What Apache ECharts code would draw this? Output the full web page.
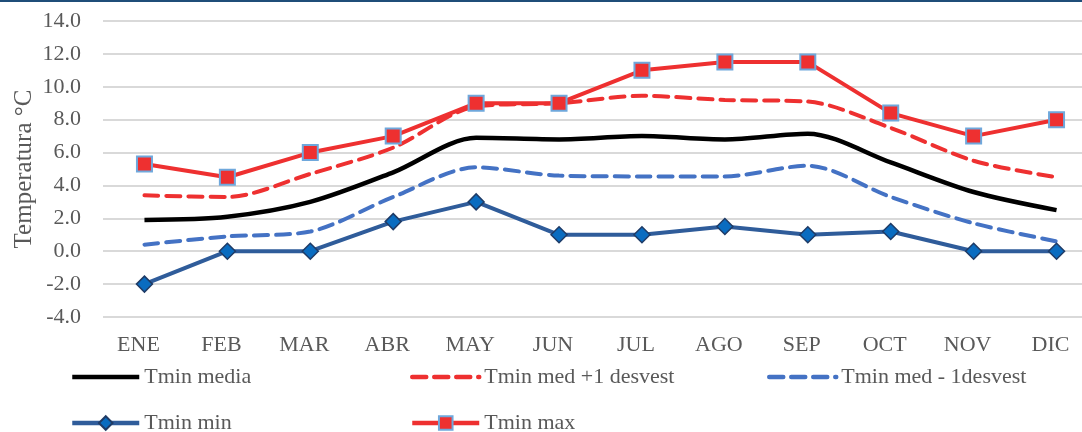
<!DOCTYPE html>
<html>
<head>
<meta charset="utf-8">
<script src="https://cdn.jsdelivr.net/npm/echarts@6/dist/echarts.min.js"></script>
<style>
  html, body { margin: 0; padding: 0; background: #fff; }
  #chart { width: 1082px; height: 432px; }
</style>
</head>
<body>
<div id="chart"></div>
<script>
// months
const months = ['ENE', 'FEB', 'MAR', 'ABR', 'MAY', 'JUN', 'JUL', 'AGO', 'SEP', 'OCT', 'NOV', 'DIC']
// series values (°C)
const tminMedia = [1.9, 2.1, 3.0, 4.8, 6.9, 6.8, 7.0, 6.8, 7.15, 5.4, 3.6, 2.5]
const tminMasDesv = [3.4, 3.3, 4.7, 6.3, 8.8, 9.0, 9.45, 9.2, 9.1, 7.5, 5.5, 4.5]
const tminMenosDesv = [0.4, 0.9, 1.2, 3.3, 5.1, 4.6, 4.55, 4.55, 5.2, 3.3, 1.7, 0.6]
const tminMin = [-2.0, 0.0, 0.0, 1.8, 3.0, 1.0, 1.0, 1.5, 1.0, 1.2, 0.0, 0.0]
const tminMax = [5.3, 4.5, 6.0, 7.0, 9.0, 9.0, 11.0, 11.5, 11.5, 8.4, 7.0, 8.0]

const font = '"Liberation Serif", "DejaVu Serif", serif'
const textColor = '#595959'
const red = '#EE3030'
const blueDash = '#4472C4'
const blueLine = '#2F5C9A'

let myChart = echarts.init(document.getElementById('chart'))

// one legend box per entry, placed like the original
function legendBox(left, top, item) {
    return {
        left: left,
        top: top,
        orient: 'horizontal',
        itemWidth: 67,
        itemHeight: 17,
        itemGap: 0,
        lineStyle: { width: 4.5 },
        textStyle: { fontFamily: font, fontSize: 22, color: textColor },
        data: [item]
    }
}

myChart.setOption({
    animation: false,
    backgroundColor: '#fff',
    textStyle: { fontFamily: font },
    graphic: [
        {
            type: 'rect',
            left: 0,
            top: 0,
            shape: { width: 1082, height: 2 },
            style: { fill: '#1F4E79' }
        }
    ],
    legend: [
        legendBox(65, 361, { name: 'Tmin media', itemStyle: { opacity: 0 } }),
        legendBox(405, 361, { name: 'Tmin med +1 desvest', itemStyle: { opacity: 0 } }),
        legendBox(762, 361, { name: 'Tmin med - 1desvest', itemStyle: { opacity: 0 } }),
        legendBox(65, 407, { name: 'Tmin min' }),
        legendBox(405, 407, { name: 'Tmin max' })
    ],
    grid: {
        left: 103,
        top: 21,
        width: 995,
        bottom: 115,
        outerBoundsMode: 'none',
        containLabel: false
    },
    xAxis: {
        type: 'category',
        data: months,
        boundaryGap: true,
        axisLine: { show: false },
        axisTick: { show: false },
        axisLabel: {
            color: textColor,
            fontFamily: font,
            fontSize: 22,
            margin: 17,
            padding: [0, 12, 0, 0],
            interval: 0
        }
    },
    yAxis: {
        type: 'value',
        min: -4,
        max: 14,
        interval: 2,
        name: 'Temperatura °C',
        nameLocation: 'middle',
        nameGap: 66,
        nameMoveOverlap: false,
        nameTextStyle: { color: textColor, fontFamily: font, fontSize: 25 },
        axisLine: { show: false },
        axisTick: { show: false },
        axisLabel: {
            color: textColor,
            fontFamily: font,
            fontSize: 22,
            margin: 22,
            formatter: function (v) { return v.toFixed(1) }
        },
        splitLine: { lineStyle: { color: '#D9D9D9', width: 2 } }
    },
    series: [
        {
            name: 'Tmin media',
            type: 'line',
            data: tminMedia,
            smooth: 0.3,
            symbol: 'none',
            lineStyle: { color: '#000', width: 4.5 },
            itemStyle: { color: '#000' }
        },
        {
            name: 'Tmin med +1 desvest',
            type: 'line',
            data: tminMasDesv,
            smooth: 0.3,
            symbol: 'none',
            lineStyle: { color: red, width: 4, type: [14, 8], cap: 'round' },
            itemStyle: { color: red }
        },
        {
            name: 'Tmin med - 1desvest',
            type: 'line',
            data: tminMenosDesv,
            smooth: 0.3,
            symbol: 'none',
            lineStyle: { color: blueDash, width: 4, type: [14, 8], cap: 'round' },
            itemStyle: { color: blueDash }
        },
        {
            name: 'Tmin min',
            type: 'line',
            data: tminMin,
            symbol: 'diamond',
            symbolSize: [16, 16],
            lineStyle: { color: blueLine, width: 4 },
            itemStyle: { color: '#0A6CC0', borderColor: '#1F3B66', borderWidth: 1.5 }
        },
        {
            name: 'Tmin max',
            type: 'line',
            data: tminMax,
            symbol: 'rect',
            symbolSize: 15,
            lineStyle: { color: red, width: 4 },
            itemStyle: { color: red, borderColor: '#6FA8DC', borderWidth: 2 }
        }
    ]
})
window.addEventListener('resize', function () {
    myChart.resize()
})
</script>
</body>
</html>
